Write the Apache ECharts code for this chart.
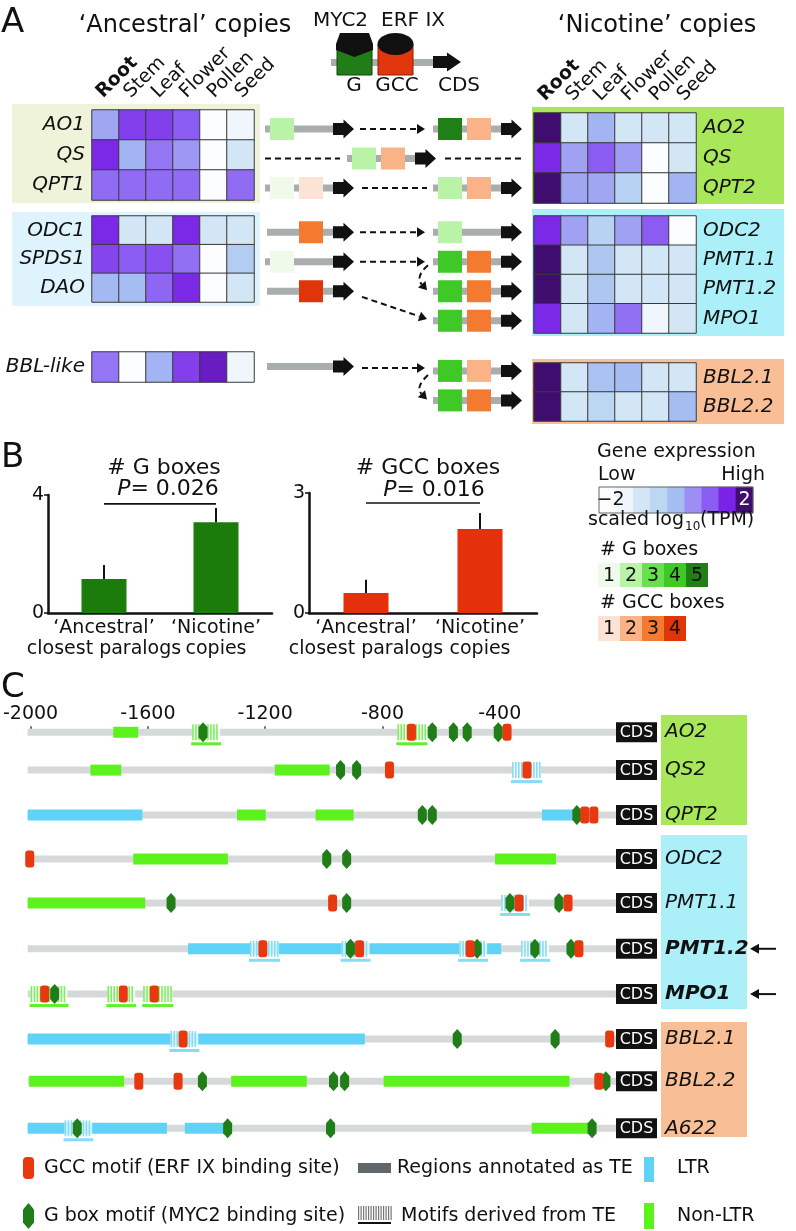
<!DOCTYPE html>
<html><head><meta charset="utf-8">
<script src="https://cdn.jsdelivr.net/npm/echarts@6/dist/echarts.min.js"></script>
<style>html,body{margin:0;padding:0;background:#fff}#c{width:796px;height:1231px}</style>
</head><body><div id="c"></div>
<script>
// ================= DATA =================
const tissues = ['Root','Stem','Leaf','Flower','Pollen','Seed'];
const ancestralGenesA = ['AO1','QS','QPT1'];
const ancestralGenesB = ['ODC1','SPDS1','DAO'];
const ancestralGenesC = ['BBL-like'];
const nicotineGenesA = ['AO2','QS','QPT2'];
const nicotineGenesB = ['ODC2','PMT1.1','PMT1.2','MPO1'];
const nicotineGenesC = ['BBL2.1','BBL2.2'];
// scaled log10(TPM), -2 .. 2
const ancExprA = [[0.25,1.25,1.25,1.0,-2,-1.6],[1.45,0.1,0.75,0.4,-2,-1.0],[0.85,0.85,0.85,0.85,-2,0.85]];
const ancExprB = [[1.45,-1.0,-1.0,1.45,-1.0,-1.0],[1.2,1.0,1.1,0.8,-2,-0.3],[0.05,0,0.9,1.45,-2,-1.0]];
const ancExprC = [[0.75,-2,0.1,1.25,1.65,-1.6]];
const nicExprA = [[2,-1,0.1,-1,-1,-1],[1.45,0.3,1.0,0.35,-2,-1],[2,0.25,0.25,-0.4,-2,0.1]];
const nicExprB = [[1.45,0.3,-0.4,0.3,1.0,-2],[2,-1,-0.2,-1,-1,-1],[2,-1,-0.2,-1,-1,-1],[1.45,-1,0.1,0.8,-1.6,-1]];
const nicExprC = [[2,-1,-0.1,0,-1,-1],[2,-1,-0.5,-1,-1,0]];
const legendExprValues = [-2,-1.5,-1,-0.5,0,0.5,1,1.5,2];

// promoter motif counts (schematic boxes)
const ancestralG   = [2, 2, 1, 0, 1, 0, 0];   // AO1, QS, QPT1, ODC1, SPDS1, DAO, BBL-like
const ancestralGCC = [0, 2, 1, 3, 0, 4, 0];
const nicotineG    = [5, 2, 2, 2, 4, 4, 4, 4, 4]; // AO2, QS, QPT2, ODC2, PMT1.1, PMT1.2, MPO1, BBL2.1, BBL2.2
const nicotineGCC  = [2, 2, 2, 0, 3, 3, 3, 2, 3];
const gLegendLabels = ['1','2','3','4','5'];
const gccLegendLabels = ['1','2','3','4'];

// panel B
const barCategories = ['‘Ancestral’\nclosest paralogs', '‘Nicotine’\ncopies'];
const gBoxMean = [1.15, 3.08];
const gBoxErrTop = [1.63, 3.56];
const gccBoxMean = [0.5, 2.1];
const gccBoxErrTop = [0.83, 2.5];
const gPValue = '0.026';
const gccPValue = '0.016';

// panel C (positions in bp upstream of CDS)
const promoterGenes = ['AO2','QS2','QPT2','ODC2','PMT1.1','PMT1.2','MPO1','BBL2.1','BBL2.2','A622'];
const highlightedGenes = ['PMT1.2','MPO1'];
const positionTicks = [-2000,-1600,-1200,-800,-400];
const teLTR = [[2,-2010,-1619],[2,-256,-140],[5,-1463,-395],[7,-2010,-860],[9,-2010,-1535],[9,-1474,-1333]];
const teNonLTR = [[0,-1718,-1633],[1,-1796,-1691],[1,-1167,-980],[2,-1296,-1198],[2,-1028,-898],[3,-1650,-1327],[3,-416,-208],[4,-2010,-1609],[8,-2005,-1681],[8,-1316,-1058],[8,-796,-162],[9,-291,-85]];
const teMotifRegions = [[0,-1449,-1354,'nonLTR'],[0,-749,-650,'nonLTR'],[1,-358,-259,'LTR'],[4,-395,-300,'LTR'],
  [5,-1252,-1153,'LTR'],[5,-939,-844,'LTR'],[5,-538,-443,'LTR'],[5,-327,-232,'LTR'],
  [6,-2000,-1874,'nonLTR'],[6,-1738,-1643,'nonLTR'],[6,-1616,-1517,'nonLTR'],[7,-1523,-1428,'LTR'],[9,-1884,-1790,'LTR']];
const gccSites = [[0,-701],[0,-375],[1,-776],[1,-307],[2,-110],[2,-79],[3,-2003],[4,-970],[4,-334],[4,-167],
  [5,-1208],[5,-878],[5,-501],[5,-130],[6,-1952],[6,-1684],[6,-1578],[7,-1480],[7,-25],[8,-1631],[8,-1497],[8,-62]];
const gBoxSites = [[0,-1412],[0,-630],[0,-558],[0,-511],[0,-405],[1,-943],[1,-888],[2,-664],[2,-630],[2,-137],
  [3,-990],[3,-922],[4,-1521],[4,-922],[4,-365],[4,-198],[5,-909],[5,-477],[5,-280],[5,-157],[6,-1918],
  [7,-545],[7,-211],[8,-1414],[8,-967],[8,-929],[8,-38],[9,-1841],[9,-1328],[9,-977],[9,-85]];

// ================= STYLE / LAYOUT =================
const FONT = 'DejaVu Sans, Liberation Sans, Arial, sans-serif';
const exprColors = ['#fafcfe','#eef6fb','#d3e6f5','#bcd7f2','#a5bdf1','#9d8ef5','#8b5cf2','#7a22e6','#3f0d6e'];
const gBoxColors = ['#effaea','#b9f3a8','#68e04f','#3ec926','#217f17'];
const gccBoxColors = ['#fde3d6','#f9b386','#f47a30','#df3508'];
const LTR_C = '#5fd3f7', NONLTR_C = '#5cf21c', TRACK_C = '#d5d9d9', GCC_C = '#e8380e', GBOX_C = '#217d18';
const ancRowPos = [0, 1, 2, 3.5, 4.5, 5.5, 8.05];
const nicRowPos = [0, 1, 2, 3.5, 4.5, 5.5, 6.5, 8.2, 9.2];
const trackPos = [0, 0.86, 1.88, 2.88, 3.88, 4.92, 5.95, 6.97, 7.93, 9.0];
const sigLevelG = 3.7, sigLevelGCC = 2.75;
const connectorPaths = [
  {from:[100,0], to:[165,0], head:true},
  {from:[5,1], to:[80,1], head:false},
  {from:[185,1], to:[262,1], head:false},
  {from:[102,2], to:[167,2], head:false},
  {from:[100,3.5], to:[165,3.5], head:true},
  {from:[100,4.5], to:[165,4.5], head:true},
  {from:[168,4.62], ctrl:[155,5.0], to:[167,5.47], head:true},
  {from:[102,5.69], to:[167,6.44], head:true},
  {from:[102,8.1], to:[165,8.1], head:true},
  {from:[168,8.34], ctrl:[155,8.75], to:[167,9.17], head:true}
];

function toHm(m){ const out=[]; m.forEach((row,yi)=>row.forEach((v,xi)=>out.push([xi,yi,v]))); return out; }

const hmX = (gi) => ({type:'category', gridIndex:gi, data:tissues, position:'top',
  axisLine:{show:false}, axisTick:{show:false}, splitLine:{show:false}, axisLabel:{show:false}});
const hmY = (gi, genes, pos) => ({type:'category', gridIndex:gi, data:genes, inverse:true, position:pos,
  axisLine:{show:false}, axisTick:{show:false}, splitLine:{show:false},
  axisLabel:{margin:7, color:'#111', fontSize:20, fontStyle:'italic', fontFamily:FONT}});
const hidX = (gi, data) => ({type:'category', gridIndex:gi, data, show:false});
const hidY = (gi) => ({type:'category', gridIndex:gi, data:['a'], show:false});
const barX = (gi) => ({type:'category', gridIndex:gi, data:barCategories,
  axisLine:{lineStyle:{color:'#111', width:2.5}}, axisTick:{length:4, lineStyle:{color:'#111', width:1.5}},
  axisLabel:{color:'#111', fontSize:19, lineHeight:21, margin:5, interval:0, fontFamily:FONT}});
const barY = (gi, max) => ({type:'value', gridIndex:gi, min:0, max, interval:max,
  axisLine:{show:true, lineStyle:{color:'#111', width:2.5}}, axisTick:{show:true, length:4, lineStyle:{color:'#111', width:1.5}},
  splitLine:{show:false}, axisLabel:{color:'#111', fontSize:19, margin:4, fontFamily:FONT}});

function hm(gi, m){ return {type:'heatmap', xAxisIndex:gi, yAxisIndex:gi, data:toHm(m),
  itemStyle:{borderColor:'#3a3a3a', borderWidth:1}, emphasis:{disabled:true}}; }

// rotated tissue labels, placed with the heatmap's own category scale
function renderTissueLabel(params, api){
  const i = api.value(0);
  const c = api.coord([i, 0]);
  const h = api.size([0, 1])[1];
  const top = c[1] - h/2;
  return {type:'text', x:c[0]-6 + i*0.8, y:top-15, rotation:Math.PI/4,
    style:{text:tissues[i], x:0, y:0, fill:'#111', fontSize:19, fontFamily:FONT, fontWeight:i===0?'bold':'normal', align:'left', verticalAlign:'middle'}};
}

function arrowShape(x, cy, len, color){
  const b = x + len*0.5;
  return {type:'polygon', shape:{points:[[x,cy-6],[b,cy-6],[b,cy-9.5],[x+len,cy],[b,cy+9.5],[b,cy+6],[x,cy+6]]}, style:{fill:color||'#111'}};
}

function renderSchem(params, api){
  const x0 = api.value(0), r = api.value(1), g = api.value(2), gcc = api.value(3), lineStart = api.value(4);
  const X = u => api.coord([x0+u, r])[0];
  const cy = api.coord([x0, r])[1];
  const kids = [];
  kids.push({type:'rect', shape:{x:X(lineStart), y:cy-3.5, width:X(70)-X(lineStart), height:7}, style:{fill:'#a9adad'}});
  if (g>0) kids.push({type:'rect', shape:{x:X(5), y:cy-11, width:X(29)-X(5), height:22}, style:{fill:gBoxColors[g-1]}});
  if (gcc>0) kids.push({type:'rect', shape:{x:X(34), y:cy-11, width:X(58)-X(34), height:22}, style:{fill:gccBoxColors[gcc-1]}});
  kids.push(arrowShape(X(68), cy, X(89)-X(68)));
  return {type:'group', children:kids};
}

function headAt(tip, from, len, hw){
  const dx = tip[0]-from[0], dy = tip[1]-from[1], L = Math.hypot(dx,dy)||1;
  const ux = dx/L, uy = dy/L, bx = tip[0]-ux*len, by = tip[1]-uy*len;
  return {poly:{type:'polygon', shape:{points:[[tip[0],tip[1]],[bx-uy*hw,by+ux*hw],[bx+uy*hw,by-ux*hw]]}, style:{fill:'#111'}}, base:[bx,by]};
}

function renderConnector(params, api){
  const c = connectorPaths[api.value(0)];
  const P = p => api.coord([p[0], p[1]]);
  const a = P(c.from), t = P(c.to);
  const kids = [];
  const dash = {stroke:'#111', lineWidth:2, lineDash:[6,4], fill:null};
  if (c.ctrl){
    const q = P(c.ctrl);
    let end = t;
    if (c.head){ const h = headAt(t, q, 8, 5); end = h.base; kids.push(h.poly); }
    kids.push({type:'bezierCurve', shape:{x1:a[0], y1:a[1], cpx1:q[0], cpy1:q[1], x2:end[0], y2:end[1]}, style:dash});
  } else {
    let end = t;
    if (c.head){ const h = headAt(t, a, 8, 5); end = h.base; kids.push(h.poly); }
    kids.push({type:'line', shape:{x1:a[0], y1:a[1], x2:end[0], y2:end[1]}, style:dash});
  }
  return {type:'group', children:kids};
}

function legendCells(colors){
  return function(params, api){
    const i = api.value(0);
    const c = api.coord([i, 0]), s = api.size([1, 1]);
    return {type:'group', children:[
      {type:'rect', shape:{x:c[0]-s[0]/2, y:c[1]-s[1]/2, width:s[0], height:s[1]}, style:{fill:colors[i]}},
      {type:'text', style:{text:String(i+1), x:c[0], y:c[1]+1, fill:'#111', fontSize:19, fontFamily:FONT, align:'center', verticalAlign:'middle'}}
    ]};
  };
}

function errRender(params, api){
  const a = api.coord([api.value(0), api.value(1)]), b = api.coord([api.value(0), api.value(2)]);
  return {type:'line', shape:{x1:a[0], y1:a[1], x2:b[0], y2:b[1]}, style:{stroke:'#111', lineWidth:2}};
}
function sigRender(params, api){
  const a = api.coord([api.value(0), api.value(2)]), b = api.coord([api.value(1), api.value(2)]);
  return {type:'line', shape:{x1:a[0], y1:a[1], x2:b[0], y2:b[1]}, style:{stroke:'#111', lineWidth:1.6}};
}

function hexagon(cx, cy, w, h, color){
  return {type:'polygon', shape:{points:[[cx,cy-h/2],[cx+w/2,cy-h/4],[cx+w/2,cy+h/4],[cx,cy+h/2],[cx-w/2,cy+h/4],[cx-w/2,cy-h/4]]}, style:{fill:color}};
}

function renderTrack(params, api){
  const ti = api.value(0), yv = api.value(1);
  const xp = v => api.coord([v, yv])[0];
  const cy = api.coord([0, yv])[1];
  const x0 = xp(-2010), xe = xp(0);
  const kids = [];
  kids.push({type:'rect', shape:{x:x0, y:cy-3.5, width:xe-x0, height:7}, style:{fill:TRACK_C}});
  teLTR.filter(d=>d[0]===ti).forEach(d=>kids.push({type:'rect', shape:{x:xp(d[1]), y:cy-5.5, width:xp(d[2])-xp(d[1]), height:11}, style:{fill:LTR_C}}));
  teNonLTR.filter(d=>d[0]===ti).forEach(d=>kids.push({type:'rect', shape:{x:xp(d[1]), y:cy-5.5, width:xp(d[2])-xp(d[1]), height:11}, style:{fill:NONLTR_C}}));
  teMotifRegions.filter(d=>d[0]===ti).forEach(d=>{
    const a = xp(d[1]), b = xp(d[2]);
    const sc = d[3]==='LTR' ? '#84dcf6' : '#7cf05a';
    kids.push({type:'rect', shape:{x:a, y:cy-8, width:b-a, height:16}, style:{fill:'#ffffff', opacity:0.75}});
    for (let x = a; x < b-1; x += 3) kids.push({type:'rect', shape:{x:x, y:cy-8, width:1.6, height:16}, style:{fill:sc}});
    kids.push({type:'rect', shape:{x:a-1, y:cy+10, width:b-a+2, height:3}, style:{fill:d[3]==='LTR' ? '#84dcf6' : '#5ef02c'}});
  });
  gBoxSites.filter(d=>d[0]===ti).forEach(d=>kids.push(hexagon(xp(d[1]), cy, 9, 20, GBOX_C)));
  gccSites.filter(d=>d[0]===ti).forEach(d=>kids.push({type:'rect', shape:{x:xp(d[1])-4.5, y:cy-8.5, width:9, height:17, r:3}, style:{fill:GCC_C}}));
  kids.push({type:'rect', shape:{x:xe-1, y:cy-10, width:41, height:20}, style:{fill:'#111'}});
  kids.push({type:'text', style:{text:'CDS', x:xe+19.5, y:cy+1, fill:'#fff', fontSize:16, fontFamily:FONT, align:'center', verticalAlign:'middle'}});
  const name = promoterGenes[ti], hl = highlightedGenes.indexOf(name) >= 0;
  kids.push({type:'text', style:{text:name, x:xe+48, y:cy, fill:'#111', fontSize:20, fontStyle:'italic', fontWeight:hl?'bold':'normal', fontFamily:FONT, align:'left', verticalAlign:'middle'}});
  if (hl){
    kids.push({type:'line', shape:{x1:xe+140, y1:cy, x2:xe+159, y2:cy}, style:{stroke:'#111', lineWidth:2}});
    kids.push({type:'polygon', shape:{points:[[xe+133,cy],[xe+142,cy-5],[xe+142,cy+5]]}, style:{fill:'#111'}});
  }
  return {type:'group', children:kids};
}

// ---------- schematic row items (built from count arrays) ----------
const schemItems = [];
ancestralG.forEach((g,i)=>{ if (i===1) return; schemItems.push([5, ancRowPos[i], g, ancestralGCC[i], (g>0?0:2)]); });
nicotineG.forEach((g,i)=>{ if (i===1) return; schemItems.push([173, nicRowPos[i], g, nicotineGCC[i], 0]); });
schemItems.push([87, 1, ancestralG[1], ancestralGCC[1], 0]); // shared QS

// ---------- graphic decorations ----------
const T = (text, x, y, size, extra) => ({type:'text', x, y, z:50, style:Object.assign({text, fill:'#111', fontSize:size, fontFamily:FONT, align:'left', verticalAlign:'middle'}, extra||{})});
const R = (x, y, w, h, fill, extra) => ({type:'rect', z:-5, shape:Object.assign({x, y, width:w, height:h}, extra||{}), style:{fill}});
const gfx = [
  R(12,104,248,99,'#eef3d9'), R(12,212,248,94,'#def3fb'),
  R(532,107,252,97,'#a8e65a'), R(532,209,252,127,'#abeff8'), R(532,359,252,65,'#f8be96'),
  R(661,715,86,110,'#a8e65a'), R(661,835,86,174,'#abeff8'), R(661,1022,86,115,'#f8be96'),
  T('A', 1, 23, 34), T('B', 1, 458, 34), T('C', 1, 688, 34),
  T('‘Ancestral’ copies', 185, 26, 24, {align:'center'}),
  T('‘Nicotine’ copies', 657, 26, 24, {align:'center'}),
  T('MYC2', 313, 21, 20), T('ERF IX', 381, 21, 20),
  T('G', 354, 86, 20, {align:'center'}), T('GCC', 397, 86, 20, {align:'center'}), T('CDS', 459, 86, 20, {align:'center'}),
  {type:'rect', z:10, shape:{x:331, y:59, width:102, height:7}, style:{fill:'#a9adad'}},
  {type:'rect', z:11, shape:{x:337, y:47, width:35, height:28}, style:{fill:'#217d18', stroke:'#0e4a0a', lineWidth:1}},
  {type:'polygon', z:12, shape:{points:[[340,33],[369,33],[373,44],[373,50],[354.5,57],[336,50],[336,44]]}, style:{fill:'#111'}},
  {type:'rect', z:11, shape:{x:378, y:44, width:35, height:31}, style:{fill:'#e2360c', stroke:'#8a1e05', lineWidth:1}},
  {type:'ellipse', z:12, shape:{cx:395.5, cy:44, rx:18, ry:11}, style:{fill:'#111'}},
  Object.assign(arrowShape(433, 62, 28), {z:12}),
  T('# G boxes', 164, 468, 22, {align:'center'}),
  T('{i|P}= ' + gPValue, 168, 489, 22, {align:'center', rich:{i:{fontStyle:'italic', fontSize:22, fontFamily:FONT, fill:'#111'}}}),
  T('# GCC boxes', 428, 468, 22, {align:'center'}),
  T('{i|P}= ' + gccPValue, 434, 490, 22, {align:'center', rich:{i:{fontStyle:'italic', fontSize:22, fontFamily:FONT, fill:'#111'}}}),
  T('Gene expression', 597, 452, 19), T('Low', 598, 475, 19), T('High', 765, 475, 19, {align:'right'}),
  T('scaled log', 588, 520, 19), T('10', 685, 527, 12), T('(TPM)', 700, 520, 19),
  {type:'rect', z:20, shape:{x:599, y:487, width:154, height:26}, style:{fill:null, stroke:'#666', lineWidth:1}},
  T('# G boxes', 600, 550, 19), T('# GCC boxes', 600, 603, 19),
  // bottom legend
  {type:'rect', z:10, shape:{x:23, y:1157, width:11, height:22, r:4}, style:{fill:GCC_C}},
  T('GCC motif (ERF IX binding site)', 44, 1168, 19),
  {type:'rect', z:10, shape:{x:358, y:1163, width:33, height:10}, style:{fill:'#60676a'}},
  T('Regions annotated as TE', 397, 1168, 19),
  {type:'rect', z:10, shape:{x:644, y:1157, width:10, height:25}, style:{fill:LTR_C}},
  T('LTR', 677, 1168, 19),
  Object.assign(hexagon(28.5, 1216, 11, 26, GBOX_C), {z:10}),
  T('G box motif (MYC2 binding site)', 44, 1216, 19),
  T('Motifs derived from TE', 401, 1216, 19),
  {type:'rect', z:10, shape:{x:358, y:1222, width:33, height:2}, style:{fill:'#111'}},
  {type:'rect', z:10, shape:{x:644, y:1203, width:10, height:26}, style:{fill:NONLTR_C}},
  T('Non-LTR', 677, 1216, 19)
];
for (let x = 358; x < 391; x += 2.5) gfx.push({type:'rect', z:10, shape:{x, y:1206, width:1.2, height:14}, style:{fill:'#777'}});

const option = {
  animation:false,
  textStyle:{fontFamily:FONT},
  grid:[
    {left:92, top:110, width:162, height:90},
    {left:92, top:216, width:162, height:86},
    {left:92, top:352, width:162, height:30},
    {left:534, top:113, width:162, height:90},
    {left:534, top:216, width:162, height:117},
    {left:534, top:363, width:162, height:58},
    {left:260, top:111.3, width:270, height:306.8},
    {left:48, top:495, width:224, height:118},
    {left:309, top:493, width:228, height:120},
    {left:599, top:487, width:154, height:26},
    {left:598, top:563, width:110, height:24},
    {left:598, top:616, width:88, height:25},
    {left:27, top:727, width:590, height:423.3}
  ],
  xAxis:[
    hmX(0), hmX(1), hmX(2), hmX(3), hmX(4), hmX(5),
    {type:'value', gridIndex:6, min:0, max:270, show:false},
    barX(7), barX(8),
    hidX(9, legendExprValues.map(String)), hidX(10, gLegendLabels), hidX(11, gccLegendLabels),
    {type:'value', gridIndex:12, min:-2010, max:0, position:'top',
      axisLine:{show:false}, splitLine:{show:false},
      axisTick:{show:true, customValues:positionTicks, length:6, lineStyle:{color:'#444', width:1.5}},
      axisLabel:{customValues:positionTicks, formatter:v=>String(v), fontSize:19, color:'#111', margin:3, fontFamily:FONT}}
  ],
  yAxis:[
    hmY(0, ancestralGenesA, 'left'), hmY(1, ancestralGenesB, 'left'), hmY(2, ancestralGenesC, 'left'),
    hmY(3, nicotineGenesA, 'right'), hmY(4, nicotineGenesB, 'right'), hmY(5, nicotineGenesC, 'right'),
    {type:'value', gridIndex:6, min:-0.6, max:9.8, inverse:true, show:false},
    barY(7, 4), barY(8, 3),
    hidY(9), hidY(10), hidY(11),
    {type:'value', gridIndex:12, min:-0.12, max:9.5, inverse:true, show:false}
  ],
  visualMap:[{type:'continuous', show:false, min:-2, max:2, dimension:2, seriesIndex:[0,1,2,3,4,5,6], inRange:{color:exprColors}}],
  series:[
    hm(0, ancExprA), hm(1, ancExprB), hm(2, ancExprC), hm(3, nicExprA), hm(4, nicExprB), hm(5, nicExprC),
    {type:'heatmap', xAxisIndex:9, yAxisIndex:9, emphasis:{disabled:true}, itemStyle:{borderWidth:0},
      data: legendExprValues.map((v,i)=>{
        const item = {value:[i,0,v]};
        if (i===0) item.label = {show:true, formatter:'−2', color:'#111', fontSize:19, fontFamily:FONT, offset:[3,0]};
        if (i===legendExprValues.length-1) item.label = {show:true, formatter:'2', color:'#fff', fontSize:19, fontFamily:FONT};
        return item;
      })},
    {type:'custom', xAxisIndex:6, yAxisIndex:6, clip:false, data:schemItems, renderItem:renderSchem, z:3},
    {type:'custom', xAxisIndex:6, yAxisIndex:6, clip:false, data:connectorPaths.map((c,i)=>[i]), renderItem:renderConnector, z:3},
    {type:'bar', xAxisIndex:7, yAxisIndex:7, data:gBoxMean, barWidth:45, itemStyle:{color:'#1b7c0c'}, z:2},
    {type:'custom', xAxisIndex:7, yAxisIndex:7, clip:false, data:gBoxMean.map((m,i)=>[i,m,gBoxErrTop[i]]), renderItem:errRender, z:3},
    {type:'custom', xAxisIndex:7, yAxisIndex:7, clip:false, data:[[0,1,sigLevelG]], renderItem:sigRender, z:3},
    {type:'bar', xAxisIndex:8, yAxisIndex:8, data:gccBoxMean, barWidth:45, itemStyle:{color:'#e5300c'}, z:2},
    {type:'custom', xAxisIndex:8, yAxisIndex:8, clip:false, data:gccBoxMean.map((m,i)=>[i,m,gccBoxErrTop[i]]), renderItem:errRender, z:3},
    {type:'custom', xAxisIndex:8, yAxisIndex:8, clip:false, data:[[0,1,sigLevelGCC]], renderItem:sigRender, z:3},
    {type:'custom', xAxisIndex:10, yAxisIndex:10, clip:false, data:gLegendLabels.map((l,i)=>[i,0]), renderItem:legendCells(gBoxColors)},
    {type:'custom', xAxisIndex:11, yAxisIndex:11, clip:false, data:gccLegendLabels.map((l,i)=>[i,0]), renderItem:legendCells(gccBoxColors)},
    {type:'custom', xAxisIndex:12, yAxisIndex:12, clip:false, data:promoterGenes.map((g,i)=>[i, trackPos[i]]), renderItem:renderTrack, z:3},
    {type:'custom', xAxisIndex:0, yAxisIndex:0, clip:false, data:tissues.map((t,i)=>[i,0]), renderItem:renderTissueLabel, z:5},
    {type:'custom', xAxisIndex:3, yAxisIndex:3, clip:false, data:tissues.map((t,i)=>[i,0]), renderItem:renderTissueLabel, z:5}
  ],
  graphic:{elements:gfx}
};
const chart = echarts.init(document.getElementById('c'), null, {renderer:'canvas', width:796, height:1231});
chart.setOption(option);
</script>
</body></html>
